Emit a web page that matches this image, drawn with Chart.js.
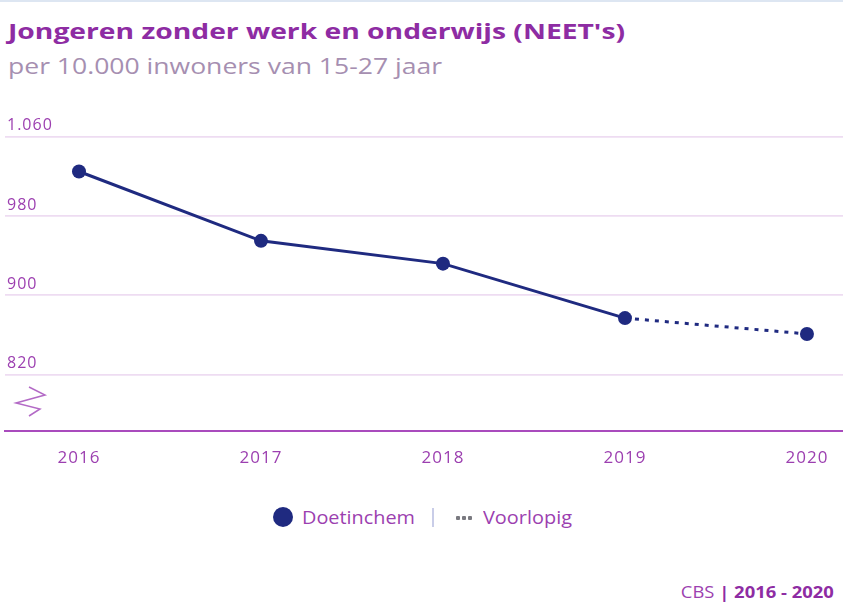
<!DOCTYPE html>
<html>
<head>
<meta charset="utf-8">
<script src="https://cdn.jsdelivr.net/npm/chart.js@4"></script>
<style>
  body { margin: 0; width: 843px; height: 606px; background: #fff; position: relative; overflow: hidden; font-family: "Open Sans", sans-serif; }
  .topline { position: absolute; left: 0; top: 0; width: 843px; height: 2px; background: #dde6f2; }
  .txt { position: absolute; white-space: nowrap; line-height: 1; transform-origin: left top; }
  #title { left: 8px; top: 19px; font-size: 22px; font-weight: bold; color: #8e2ca3; }
  #subtitle { left: 8px; top: 56px; font-size: 21px; color: #a68fb1; }
  #chart { position: absolute; left: 0; top: 0; }
  #dot { position: absolute; left: 273px; top: 507px; width: 20px; height: 20px; border-radius: 50%; background: #1f2a80; }
  #lg1 { left: 302px; top: 508px; font-size: 19px; color: #9c3fb0; }
  #sep { position: absolute; left: 432px; top: 508px; width: 2px; height: 19px; background: #c9cde8; }
  #dots { position: absolute; left: 456px; top: 516px; height: 4px; display: flex; gap: 2px; }
  #dots i { display: block; width: 4px; height: 4px; background: #7a7a80; border-radius: 1px; }
  #lg2 { left: 483px; top: 508px; font-size: 19px; color: #9c3fb0; }
  #source { right: 9px; top: 585px; font-size: 15.5px; color: #9c3fb0; transform-origin: right top; }
  #source b { color: #8e2ca3; }
</style>
</head>
<body>
<div class="topline"></div>
<div id="title" class="txt">Jongeren zonder werk en onderwijs (NEET's)</div>
<div id="subtitle" class="txt">per 10.000 inwoners van 15-27 jaar</div>
<canvas id="chart" width="843" height="481"></canvas>
<div id="dot"></div>
<div id="lg1" class="txt">Doetinchem</div>
<div id="sep"></div>
<div id="dots"><i></i><i></i><i></i></div>
<div id="lg2" class="txt">Voorlopig</div>
<div id="source" class="txt">CBS <b>| 2016 - 2020</b></div>
<script>
const years = [2016, 2017, 2018, 2019, 2020];
const doetinchem = [1025, 955, 932, 877, 861];
const voorlopig = [false, false, false, false, true];
const yTicks = [820, 900, 980, 1060];

const navy = '#1f2a80';
const purple = '#9c3fb0';

// tekst iets breder trekken, zoals in het origineel
function fit(id, w) {
  const el = document.getElementById(id);
  el.style.transform = 'scaleX(' + (w / el.getBoundingClientRect().width) + ')';
}
fit('title', 617);
fit('subtitle', 434);
fit('lg1', 113);
fit('lg2', 89);
fit('source', 153);

// knik-symbool (as onderbroken) links onderin
const axisBreak = {
  id: 'axisBreak',
  beforeDraw(chart) {
    chart.ctx.letterSpacing = '1px';
  },
  afterDraw(chart) {
    const c = chart.ctx;
    c.save();
    c.strokeStyle = '#b36ac6';
    c.lineWidth = 1.5;
    c.beginPath();
    c.moveTo(29, 387);
    c.lineTo(45, 395);
    c.lineTo(16, 403);
    c.lineTo(40, 409);
    c.lineTo(29, 416);
    c.stroke();
    c.restore();
  }
};

new Chart(document.getElementById('chart'), {
  type: 'line',
  data: {
    datasets: [{
      label: 'Doetinchem',
      data: years.map((y, i) => ({x: y, y: doetinchem[i]})),
      borderColor: navy,
      backgroundColor: navy,
      borderWidth: 3,
      pointRadius: 7,
      pointHoverRadius: 7,
      pointBorderWidth: 0,
      tension: 0,
      segment: {
        borderDash: ctx => voorlopig[ctx.p1DataIndex] ? [4, 6] : undefined
      }
    }]
  },
  options: {
    responsive: false,
    animation: false,
    devicePixelRatio: 1,
    layout: { autoPadding: false, padding: { top: 122, left: 5, right: 0, bottom: 0 } },
    plugins: { legend: { display: false }, tooltip: { enabled: false } },
    scales: {
      x: {
        type: 'linear',
        min: 2015.5934,
        max: 2020.198,
        afterBuildTicks: scale => { scale.ticks = years.map(v => ({value: v})); },
        afterFit: scale => { scale.height = 50; scale.paddingLeft = 0; scale.paddingRight = 0; },
        grid: { display: false, drawTicks: false },
        border: { display: true, color: '#a94bbd', width: 2 },
        ticks: {
          padding: 17,
          color: purple,
          font: { family: 'Open Sans', size: 17 },
          callback: v => String(v)
        }
      },
      y: {
        min: 763,
        max: 1075,
        afterBuildTicks: scale => { scale.ticks = yTicks.map(v => ({value: v})); },
        afterFit: scale => { scale.width = 0; },
        grid: { color: '#eedcf2', lineWidth: 1.8, drawTicks: false },
        border: { display: false },
        ticks: {
          mirror: true,
          padding: 2,
          labelOffset: -11,
          color: purple,
          font: { family: 'Open Sans', size: 16 },
          callback: v => v.toLocaleString('nl-NL')
        }
      }
    }
  },
  plugins: [axisBreak]
});
</script>
</body>
</html>
